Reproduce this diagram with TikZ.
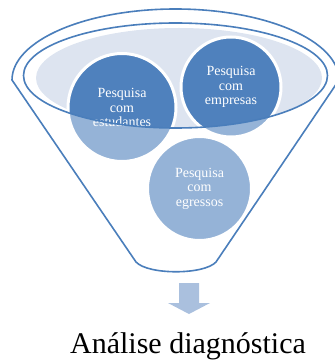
\documentclass[tikz,border=0pt]{standalone}
\usepackage{fontspec}
\setmainfont{Liberation Serif}
\usetikzlibrary{calc}
\definecolor{fn_dark}{RGB}{79,129,189}
\definecolor{fn_line}{RGB}{74,126,187}
\definecolor{fn_rim}{RGB}{221,228,240}
\definecolor{fn_arrow}{RGB}{170,192,222}
\tikzstyle{bn}=[circle,fill=fn_dark,draw=white,line width=3pt,inner sep=0pt,
  text=white,align=center,font=\fontsize{14}{14.5}\selectfont]
\tikzstyle{rim}=[draw=fn_line,line width=1.6pt]
\tikzstyle{none}=[]

\begin{document}
\begin{tikzpicture}[x=1pt,y=-1pt]
            \useasboundingbox (0,0) rectangle (334,363);
            \coordinate (0) at (12,80);
            \coordinate (1) at (339,80);
            \coordinate (2) at (216,262);
            \coordinate (3) at (136,262);
            % top of the funnel
            \fill [fn_rim] (179,78) ellipse [x radius=143, y radius=50];
            \node [style=bn, minimum size=108] (4) at (122,107.5) {Pesquisa\\com\\estudantes};
            \node [style=bn, minimum size=100] (5) at (231,87) {Pesquisa\\com\\empresas};
            \node [style=bn, minimum size=104] (6) at (199.5,188.5) {Pesquisa\\com\\egressos};
            % body of the funnel
            \fill [white, fill opacity=0.4, even odd rule] (0) arc [start angle=180, end angle=360, x radius=163.5, y radius=71]
                -- (2) .. controls (204,275) and (148,275) .. (3) -- cycle
                (175.5,75.5) ellipse [x radius=152, y radius=52.5];
            \draw [style=rim] (0) arc [start angle=180, end angle=360, x radius=163.5, y radius=71]
                -- (2) .. controls (204,275) and (148,275) .. (3) -- cycle;
            \draw [style=rim] (175.5,75.5) ellipse [x radius=152, y radius=52.5];
            \fill [fn_arrow] (179,283) -- (199,283) -- (199,303) -- (210,303) -- (189,314)
                -- (168,303) -- (179,303) -- cycle;
            \node [style=none, anchor=base, font=\fontsize{30}{30}\selectfont] (7) at (188,353) {Análise diagnóstica};
\end{tikzpicture}
\end{document}
